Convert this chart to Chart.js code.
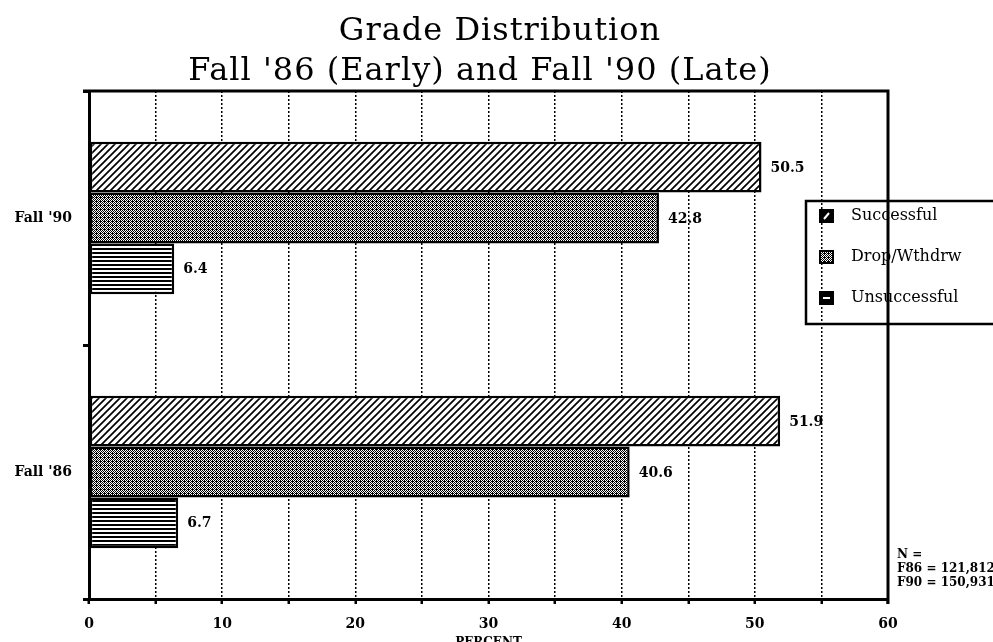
<!DOCTYPE html>
<html>
<head>
<meta charset="utf-8">
<title>Grade Distribution</title>
<script src="https://cdn.jsdelivr.net/npm/chart.js@4.4.1/dist/chart.umd.min.js"></script>
<style>
  html, body { margin: 0; padding: 0; background: #fff; overflow: hidden; }
  canvas { display: block; }
</style>
</head>
<body>
<canvas id="gradeChart" width="993" height="652"></canvas>
<script>
// values
const terms = ["Fall '90", "Fall '86"];
const seriesNames = ['Successful', 'Drop/Wthdrw', 'Unsuccessful'];
const successful = [50.5, 51.9];
const dropWithdraw = [42.8, 40.6];
const unsuccessful = [6.4, 6.7];
const percentTicks = [0, 10, 20, 30, 40, 50, 60];
const titleLines = ['Grade Distribution', "Fall '86 (Early) and Fall '90 (Late)"];
const noteLines = ['N =', 'F86 = 121,812', 'F90 = 150,931'];

const serif = "'DejaVu Serif', 'Liberation Serif', serif";

// small repeating tiles for the black and white fills
function makePattern(size, paint) {
  const tile = document.createElement('canvas');
  tile.width = size;
  tile.height = size;
  const c = tile.getContext('2d');
  c.fillStyle = '#fff';
  c.fillRect(0, 0, size, size);
  paint(c, size);
  return c.createPattern(tile, 'repeat');
}

const diagonal = makePattern(7, function (c, s) {
  c.strokeStyle = '#000';
  c.lineWidth = 1.7;
  c.beginPath();
  c.moveTo(-1, s + 1); c.lineTo(s + 1, -1);
  c.moveTo(-1, 1); c.lineTo(1, -1);
  c.moveTo(s - 1, s + 1); c.lineTo(s + 1, s - 1);
  c.stroke();
});

// fine checker, reads as a mid grey
const stipple = makePattern(4, function (c) {
  c.fillStyle = '#000';
  [[0, 0], [2, 0], [1, 1], [3, 1], [0, 2], [2, 2], [1, 3], [3, 3], [0, 1]].forEach(function (p) {
    c.fillRect(p[0], p[1], 1, 1);
  });
});

const hLines = makePattern(4, function (c) {
  c.fillStyle = '#000';
  c.fillRect(0, 0, 4, 2);
});

const fills = [diagonal, stipple, hLines];

// legend icons are small black squares with a white mark
function drawIcon(ctx, i, x, y) {
  const w = 13, h = 12;
  ctx.fillStyle = i === 1 ? stipple : '#000';
  ctx.fillRect(x, y - h / 2, w, h);
  ctx.strokeStyle = '#000';
  ctx.lineWidth = 2;
  ctx.strokeRect(x, y - h / 2, w, h);
  ctx.strokeStyle = '#fff';
  ctx.beginPath();
  if (i === 0) {
    ctx.moveTo(x + 4, y + 3);
    ctx.lineTo(x + w - 4, y - 3);
  } else if (i === 2) {
    ctx.moveTo(x + 3, y);
    ctx.lineTo(x + w - 3, y);
  }
  ctx.stroke();
}

const decorations = {
  id: 'decorations',
  afterDraw(chart) {
    const ctx = chart.ctx;
    const area = chart.chartArea;
    ctx.save();

    // top and right frame
    ctx.strokeStyle = '#000';
    ctx.lineWidth = 3;
    ctx.beginPath();
    ctx.moveTo(area.left - 6, area.top);
    ctx.lineTo(area.right + 1.5, area.top);
    ctx.moveTo(area.right, area.top);
    ctx.lineTo(area.right, area.bottom + 5);
    ctx.stroke();

    // title, two lines
    ctx.fillStyle = '#000';
    ctx.textAlign = 'center';
    ctx.textBaseline = 'middle';
    ctx.font = '32px ' + serif;
    if ('letterSpacing' in ctx) ctx.letterSpacing = '1px';
    ctx.fillText(titleLines[0], 500, 32);
    ctx.fillText(titleLines[1], 480, 72);
    if ('letterSpacing' in ctx) ctx.letterSpacing = '0px';

    // value at the end of each bar
    ctx.textAlign = 'left';
    ctx.font = 'bold 14px ' + serif;
    chart.data.datasets.forEach(function (ds, i) {
      chart.getDatasetMeta(i).data.forEach(function (bar, j) {
        ctx.fillText(ds.data[j].toFixed(1), bar.x + 9, bar.y + 1);
      });
    });

    // legend box, runs off the right edge like the original
    ctx.lineWidth = 2.5;
    ctx.strokeStyle = '#000';
    ctx.strokeRect(806, 201, 220, 123);
    ctx.font = '16px ' + serif;
    chart.data.datasets.forEach(function (ds, i) {
      const y = 216 + i * 41;
      drawIcon(ctx, i, 820, y);
      ctx.fillStyle = '#000';
      ctx.fillText(ds.label, 851, y);
    });

    // sample sizes
    ctx.font = 'bold 12px ' + serif;
    noteLines.forEach(function (line, k) {
      ctx.fillText(line, area.right + 9, 555 + k * 14);
    });

    ctx.restore();
  }
};

new Chart(document.getElementById('gradeChart'), {
  type: 'bar',
  data: {
    labels: terms,
    datasets: [
      { label: seriesNames[0], data: successful, backgroundColor: fills[0] },
      { label: seriesNames[1], data: dropWithdraw, backgroundColor: fills[1] },
      { label: seriesNames[2], data: unsuccessful, backgroundColor: fills[2] }
    ]
  },
  options: {
    indexAxis: 'y',
    responsive: false,
    animation: false,
    devicePixelRatio: 1,
    layout: { padding: { top: 91, right: 105, left: 0, bottom: 0 } },
    datasets: {
      bar: {
        borderColor: '#000',
        borderWidth: 2.5,
        borderSkipped: false,
        categoryPercentage: 0.6,
        barPercentage: 1.0
      }
    },
    plugins: {
      legend: { display: false },
      title: { display: false },
      tooltip: { enabled: false }
    },
    scales: {
      x: {
        min: percentTicks[0],
        max: percentTicks[percentTicks.length - 1],
        afterFit: function (scale) { scale.height = 53; },
        ticks: {
          stepSize: 5,
          autoSkip: false,
          maxRotation: 0,
          padding: 12,
          color: '#000',
          font: { family: serif, size: 14, weight: 'bold' },
          callback: function (value) { return percentTicks.includes(value) ? value : ''; }
        },
        grid: {
          color: '#000',
          lineWidth: 1.5,
          drawTicks: true,
          tickLength: 5,
          tickWidth: 2.5,
          tickColor: '#000',
          tickBorderDash: []
        },
        border: { color: '#000', width: 3, dash: [2, 2] },
        title: {
          display: true,
          text: 'PERCENT',
          color: '#000',
          font: { family: serif, size: 12, weight: 'bold' },
          padding: { top: 0, bottom: 2 }
        }
      },
      y: {
        afterFit: function (scale) { scale.width = 89; },
        ticks: {
          padding: 11,
          color: '#000',
          font: { family: serif, size: 14, weight: 'bold' }
        },
        grid: {
          display: true,
          drawOnChartArea: false,
          drawTicks: true,
          tickLength: 6,
          tickWidth: 3,
          tickColor: '#000'
        },
        border: { color: '#000', width: 3 }
      }
    }
  },
  plugins: [decorations]
});
</script>
</body>
</html>
